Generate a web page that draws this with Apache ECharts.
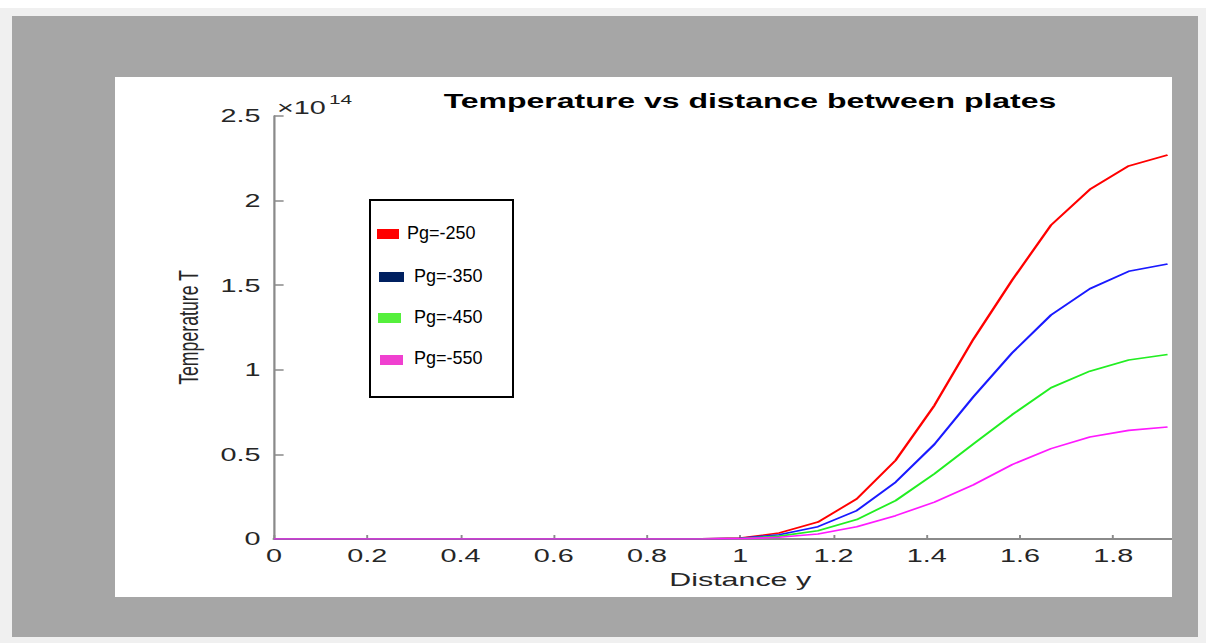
<!DOCTYPE html>
<html>
<head>
<meta charset="utf-8">
<title>Temperature vs distance between plates</title>
<script src="https://cdn.jsdelivr.net/npm/echarts@6/dist/echarts.min.js"></script>
<style>
  html, body { margin: 0; padding: 0; background: #f0f0f0; overflow: hidden; }
  /* the source figure is stretched sideways, so the chart is drawn narrow and widened */
  #main { position: absolute; left: 0; top: 0; width: 753.75px; height: 643px;
          transform: scaleX(1.6); transform-origin: 0 0; }
</style>
</head>
<body>
<div id="main"></div>
<script>
// distance y (grid step 1/12)
var distance = [0, 0.0833, 0.1667, 0.25, 0.3333, 0.4167, 0.5, 0.5833, 0.6667, 0.75, 0.8333, 0.9167,
  1, 1.0833, 1.1667, 1.25, 1.3333, 1.4167, 1.5, 1.5833, 1.6667, 1.75, 1.8333, 1.9167];

// temperature, in units of 1e14
var pg250 = [0, 0, 0, 0, 0, 0, 0, 0, 0, 0, 0.0002, 0.001,
  0.006, 0.035, 0.10, 0.237, 0.465, 0.79, 1.18, 1.53, 1.855, 2.066, 2.205, 2.27];
var pg350 = [0, 0, 0, 0, 0, 0, 0, 0, 0, 0, 0.0001, 0.0007,
  0.004, 0.025, 0.073, 0.168, 0.336, 0.56, 0.84, 1.10, 1.324, 1.479, 1.582, 1.625];
var pg450 = [0, 0, 0, 0, 0, 0, 0, 0, 0, 0, 0.0001, 0.0005,
  0.003, 0.017, 0.049, 0.115, 0.227, 0.386, 0.561, 0.735, 0.894, 0.992, 1.058, 1.09];
var pg550 = [0, 0, 0, 0, 0, 0, 0, 0, 0, 0, 0, 0.0003,
  0.002, 0.010, 0.03, 0.073, 0.138, 0.218, 0.32, 0.44, 0.534, 0.603, 0.642, 0.662];

var seriesNames = ['Pg=-250', 'Pg=-350', 'Pg=-450', 'Pg=-550'];
var lineColors = ['#ff0000', '#1a1aff', '#22ee22', '#ff1aff'];
var legendColors = ['#ff0000', '#002060', '#55f03c', '#f040d0'];

var xTicks = [0, 0.2, 0.4, 0.6, 0.8, 1, 1.2, 1.4, 1.6, 1.8];

var S = 1.6;  // horizontal stretch of the page
function px(x) { return x / S; }

function pairs(ys) {
  return distance.map(function (x, i) { return [x, ys[i]]; });
}

var chart = echarts.init(document.getElementById('main'), null, { renderer: 'svg' });

var allValues = [pg250, pg350, pg450, pg550];
var series = allValues.map(function (ys, i) {
  return {
    name: seriesNames[i],
    type: 'line',
    data: pairs(ys),
    showSymbol: false,
    smooth: false,
    lineStyle: { color: lineColors[i], width: 1.6 },
    itemStyle: { color: lineColors[i] }
  };
});

var axisGray = '#8a8a8a';
var textGray = '#262626';

// pasted legend box, laid out in unstretched pixels
// (icon x, icon y, icon w, text x, text centre y) relative to the box corner
var legendRows = [
  [7, 29, 22, 37, 33],
  [9, 72, 25, 44, 76],
  [8, 113, 23, 44, 117],
  [10, 155, 23, 44, 158]
];
var legendChildren = [
  { type: 'rect', shape: { x: 0, y: 0, width: 143, height: 197 },
    style: { fill: '#fff', stroke: '#000', lineWidth: 2 } }
];
legendRows.forEach(function (r, i) {
  legendChildren.push({ type: 'rect', shape: { x: r[0], y: r[1], width: r[2], height: 10 },
    style: { fill: legendColors[i] } });
  legendChildren.push({ type: 'text', x: r[3], y: r[4],
    style: { text: seriesNames[i], fontFamily: 'Liberation Sans, Arial, sans-serif', fontSize: 18,
      fill: '#000', verticalAlign: 'middle' } });
});

var option = {
  backgroundColor: '#f0f0f0',
  animation: false,
  title: {
    text: 'Temperature vs distance between plates',
    left: px(742),
    top: 86,
    textAlign: 'center',
    textStyle: {
      fontFamily: 'Liberation Sans, Arial, sans-serif',
      fontWeight: 'bold',
      fontSize: 20,
      color: '#000'
    }
  },
  grid: {
    left: px(274),
    right: px(1206) - px(274) - 2 * px(474.5),
    top: 116,
    bottom: 104,
    containLabel: false
  },
  xAxis: {
    type: 'value',
    min: 0,
    max: 2,
    interval: 0.2,
    name: 'Distance y',
    nameLocation: 'middle',
    nameGap: 30,
    nameTextStyle: {
      fontFamily: 'Liberation Sans, Arial, sans-serif',
      fontSize: 19,
      color: textGray
    },
    axisLine: { show: true, lineStyle: { color: axisGray, width: 2 } },
    axisTick: { show: true, inside: true, length: 4, customValues: xTicks,
      lineStyle: { color: axisGray, width: 1.2 } },
    axisLabel: {
      customValues: xTicks,
      margin: 8,
      fontFamily: 'Liberation Sans, Arial, sans-serif',
      fontSize: 18,
      color: textGray
    },
    splitLine: { show: false }
  },
  yAxis: {
    type: 'value',
    min: 0,
    max: 2.5,
    interval: 0.5,
    name: 'Temperature T',
    nameLocation: 'middle',
    nameGap: 43,
    nameTextStyle: {
      fontFamily: 'Liberation Sans, Arial, sans-serif',
      fontSize: 17.7,
      color: textGray
    },
    axisLine: { show: true, lineStyle: { color: axisGray, width: 1.4 } },
    axisTick: { show: true, inside: true, length: 6, lineStyle: { color: axisGray, width: 1.5 } },
    axisLabel: {
      margin: 8.5,
      fontFamily: 'Liberation Sans, Arial, sans-serif',
      fontSize: 18,
      color: textGray
    },
    splitLine: { show: false }
  },
  graphic: [
    // frame behind the plot
    { type: 'rect', z: -10, shape: { x: 0, y: 0, width: px(1206), height: 8 }, style: { fill: '#ffffff' } },
    { type: 'rect', z: -9, shape: { x: px(12), y: 16, width: px(1198 - 12), height: 637 - 16 }, style: { fill: '#a6a6a6' } },
    { type: 'rect', z: -8, shape: { x: px(115), y: 77, width: px(1172 - 115), height: 597 - 77 }, style: { fill: '#ffffff' } },
    // right side of the frame crops the plot
    { type: 'rect', z: 100, shape: { x: px(1172), y: 16, width: px(1198 - 1172), height: 637 - 16 }, style: { fill: '#a6a6a6' } },
    { type: 'rect', z: 100, shape: { x: px(1198), y: 8, width: px(1206 - 1198) + 1, height: 643 - 8 }, style: { fill: '#f0f0f0' } },
    // legend box (not stretched in the source)
    { type: 'group', z: 50, x: px(370), y: 200, scaleX: 1 / S, children: legendChildren },
    // axis exponent
    { type: 'text', z: 50, x: px(277), y: 108,
      style: { text: '×10', fontFamily: 'Liberation Sans, Arial, sans-serif', fontSize: 18,
        fill: textGray, verticalAlign: 'middle' } },
    { type: 'text', z: 50, x: px(329), y: 100,
      style: { text: '14', fontFamily: 'Liberation Sans, Arial, sans-serif', fontSize: 13,
        fill: textGray, verticalAlign: 'middle' } }
  ],
  series: series
};

chart.setOption(option);
</script>
</body>
</html>
